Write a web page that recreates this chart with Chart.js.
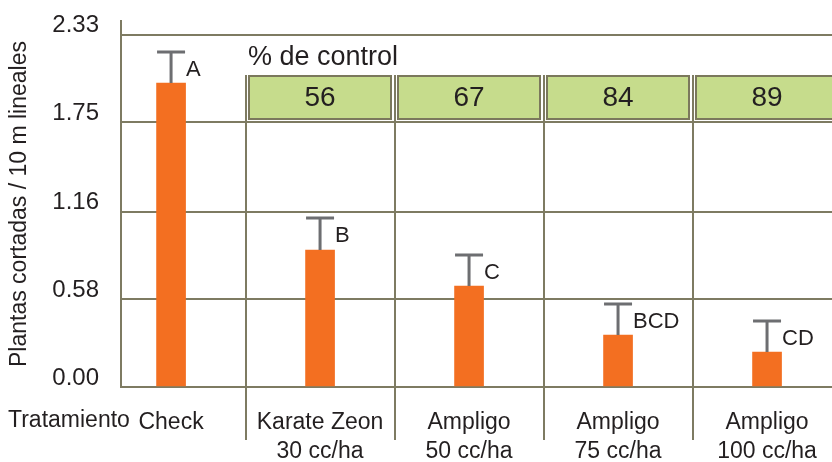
<!DOCTYPE html>
<html>
<head>
<meta charset="utf-8">
<script src="https://cdn.jsdelivr.net/npm/chart.js@4/dist/chart.umd.min.js"></script>
<style>
  body { margin: 0; background: #fff; }
  canvas { display: block; }
</style>
</head>
<body>
<canvas id="barChart" width="832" height="462"></canvas>
<script>
// chart data
const categories = [['Check'], ['Karate Zeon', '30 cc/ha'], ['Ampligo', '50 cc/ha'], ['Ampligo', '75 cc/ha'], ['Ampligo', '100 cc/ha']];
const meanValues = [2.01, 0.906, 0.668, 0.344, 0.231];
const errorTops = [2.216, 1.118, 0.873, 0.549, 0.437];
const groupLetters = ['A', 'B', 'C', 'BCD', 'CD'];
const controlPct = [null, 56, 67, 84, 89];
const yTicks = [0, 0.58, 1.16, 1.75, 2.33];

const textColor = '#231f20';
const lineColor = '#7e7b62';
const font = "'Liberation Sans', Arial, sans-serif";

// error bars, letters, % de control boxes and dividers
const extras = {
    id: 'extras',
    afterDatasetsDraw(chart) {
        const ctx = chart.ctx;
        const x = chart.scales.x;
        const y = chart.scales.y;
        const area = chart.chartArea;
        const bars = chart.getDatasetMeta(0).data;

        ctx.save();
        // category dividers
        ctx.strokeStyle = lineColor;
        ctx.lineWidth = 2;
        const divs = [];
        for (let i = 0; i < categories.length - 1; i++) {
            const px = Math.round(x.getPixelForValue(i + 0.5));
            divs.push(px);
            ctx.beginPath();
            ctx.moveTo(px, 75);
            ctx.lineTo(px, 440);
            ctx.stroke();
        }

        // % de control boxes
        ctx.fillStyle = textColor;
        ctx.font = '27px ' + font;
        ctx.textAlign = 'left';
        ctx.textBaseline = 'alphabetic';
        ctx.fillText('% de control', divs[0] + 2, 65);
        controlPct.forEach((v, i) => {
            if (v === null) return;
            const left = divs[i - 1] + 3;
            const right = i < divs.length ? divs[i] - 4 : area.right + 10;
            ctx.fillStyle = '#c6dc8c';
            ctx.fillRect(left, 76, right - left, 43);
            ctx.strokeStyle = '#7b785c';
            ctx.lineWidth = 2;
            ctx.strokeRect(left, 76, right - left, 43);
            ctx.fillStyle = textColor;
            ctx.font = '28px ' + font;
            ctx.textAlign = 'center';
            ctx.fillText(String(v), bars[i].x, 106);
        });

        // error bars and letters
        bars.forEach((bar, i) => {
            const top = Math.round(y.getPixelForValue(errorTops[i]));
            ctx.strokeStyle = '#6d6e71';
            ctx.lineWidth = 3;
            ctx.beginPath();
            ctx.moveTo(bar.x, bar.y);
            ctx.lineTo(bar.x, top);
            ctx.moveTo(bar.x - 14, top);
            ctx.lineTo(bar.x + 14, top);
            ctx.stroke();
            ctx.fillStyle = textColor;
            ctx.font = '22px ' + font;
            ctx.textAlign = 'left';
            ctx.fillText(groupLetters[i], bar.x + 15, top + 24);
        });

        // row label
        ctx.font = '23px ' + font;
        ctx.textAlign = 'left';
        ctx.fillText('Tratamiento', 8, 427);
        ctx.restore();
    }
};

const ctx = document.getElementById('barChart').getContext('2d');
new Chart(ctx, {
    type: 'bar',
    data: {
        datasets: [{
            data: meanValues.map((v, i) => ({ x: i, y: v })),
            backgroundColor: '#f36f21',
            borderWidth: 0,
            barThickness: 29
        }]
    },
    options: {
        responsive: false,
        animation: false,
        devicePixelRatio: 1,
        layout: { padding: { top: 21, right: 0, left: 0, bottom: 0 } },
        plugins: { legend: { display: false }, tooltip: { enabled: false } },
        scales: {
            x: {
                type: 'linear',
                offset: false,
                min: -0.336,
                max: 4.436,
                afterBuildTicks: scale => { scale.ticks = categories.map((c, i) => ({ value: i })); },
                afterFit: scale => { scale.height = 75; scale.paddingLeft = 0; scale.paddingRight = 0; },
                grid: { display: false },
                border: { color: lineColor, width: 2 },
                ticks: {
                    autoSkip: false,
                    maxRotation: 0,
                    padding: 13,
                    color: textColor,
                    font: { family: font, size: 23, lineHeight: 1.26 },
                    callback: v => categories[v]
                }
            },
            y: {
                min: 0,
                max: 2.42,
                afterBuildTicks: scale => { scale.ticks = yTicks.map(v => ({ value: v })); },
                afterFit: scale => { scale.width = 121; scale.paddingTop = 0; scale.paddingBottom = 0; },
                grid: { color: lineColor, lineWidth: 2, drawTicks: false },
                border: { color: lineColor, width: 2 },
                ticks: {
                    padding: 22,
                    labelOffset: -9,
                    color: textColor,
                    font: { family: font, size: 24 },
                    callback: v => v.toFixed(2)
                },
                title: {
                    display: true,
                    text: 'Plantas cortadas / 10 m lineales',
                    color: textColor,
                    font: { family: font, size: 23, lineHeight: 1.2 },
                    padding: { top: 6, bottom: 0 }
                }
            }
        }
    },
    plugins: [extras]
});
</script>
</body>
</html>
